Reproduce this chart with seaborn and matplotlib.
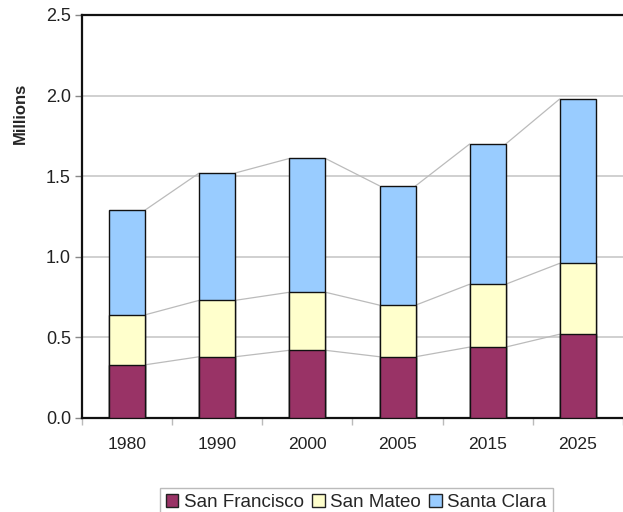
import matplotlib
matplotlib.use("Agg")
import matplotlib.pyplot as plt
from matplotlib.patches import Patch
import numpy as np
import pandas as pd
import seaborn as sns

years = ["1980", "1990", "2000", "2005", "2015", "2025"]
san_francisco = [0.33, 0.38, 0.42, 0.38, 0.44, 0.52]
san_mateo = [0.31, 0.35, 0.36, 0.32, 0.39, 0.44]
santa_clara = [0.65, 0.79, 0.83, 0.74, 0.87, 1.02]
series_names = ["San Francisco", "San Mateo", "Santa Clara"]
colors = ["#993366", "#FFFFCC", "#99CCFF"]
yticks = [0.0, 0.5, 1.0, 1.5, 2.0, 2.5]

sns.set_theme(style="white")
plt.rcParams["font.family"] = ["Liberation Sans", "DejaVu Sans"]

layers = [np.array(san_francisco), np.array(san_mateo), np.array(santa_clara)]
cum = np.cumsum(layers, axis=0)  # stacked tops per series

fig = plt.figure(figsize=(6.23, 5.12), dpi=100)
ax = fig.add_axes([82 / 623, 94 / 512, 541 / 623, 403 / 512])

bar_w = 0.4
# draw cumulative totals back to front so each layer sits on the one below
for k in range(2, -1, -1):
    df = pd.DataFrame({"year": years, "value": cum[k]})
    sns.barplot(data=df, x="year", y="value", order=years, color=colors[k],
                saturation=1, width=bar_w, edgecolor="#111111", linewidth=1.0,
                ax=ax, zorder=3)

# series lines joining the top of each segment to the next bar
for k in range(3):
    for i in range(len(years) - 1):
        ax.plot([i + bar_w / 2, i + 1 - bar_w / 2], [cum[k][i], cum[k][i + 1]],
                color="#BBBBBB", lw=0.9, zorder=2)

ax.set_ylim(0, 2.5)
ax.set_xlim(-0.5, -0.5 + 541 / 92)
ax.set_yticks(yticks)
ax.set_yticklabels([f"{v:.1f}" for v in yticks], fontsize=13, color="#222222")
ax.set_xticks(range(len(years)))
ax.set_xticklabels(years, fontsize=12.6, color="#222222")
ax.tick_params(axis="x", length=0, pad=14)
ax.tick_params(axis="y", left=True, length=5, width=1, color="#888888", pad=3)
# minor ticks on category boundaries
ax.set_xticks(np.arange(-0.5, len(years), 1.0), minor=True)
ax.tick_params(axis="x", which="minor", bottom=True, length=5, width=1, color="#BBBBBB")

ax.yaxis.grid(True, color="#C8C8C8", lw=1.2, zorder=0)
ax.set_axisbelow(True)
ax.set_xlabel("")
ax.set_ylabel("Millions", fontsize=12, fontweight="bold")
ax.yaxis.set_label_coords(-54 / 541, (418 - 113) / 403)
for side in ["left", "bottom", "top"]:
    ax.spines[side].set_visible(True)
    ax.spines[side].set_color("#111111")
    ax.spines[side].set_linewidth(1.6)
ax.spines["right"].set_visible(False)

handles = [Patch(facecolor=c, edgecolor="#222222", lw=1.0) for c in colors]
leg = fig.legend(handles, series_names, loc="upper center",
                 bbox_to_anchor=(0.572, 0.066), ncol=3, fontsize=13.5,
                 handlelength=0.65, handleheight=0.65, handletextpad=0.3,
                 columnspacing=0.45, borderpad=0.35, frameon=True, fancybox=False)
leg.get_frame().set_edgecolor("#AAAAAA")
leg.get_frame().set_linewidth(1.0)

fig.savefig("out.png", dpi=100)
